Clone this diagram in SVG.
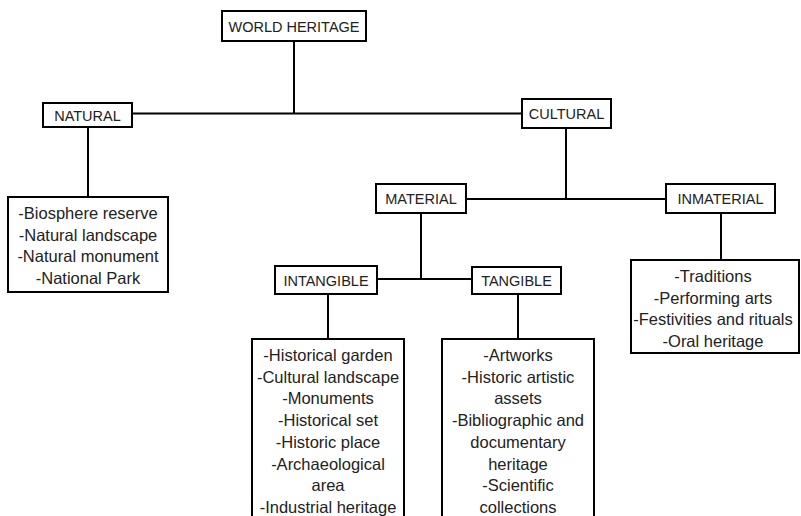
<svg xmlns="http://www.w3.org/2000/svg" width="801" height="516" viewBox="0 0 801 516">
<style>
rect{fill:#fff;stroke:#000;stroke-width:2}
.c line{stroke:#000;stroke-width:2}
.lbl{font-family:"Liberation Sans",Arial,sans-serif;font-size:14.5px;fill:#222;text-anchor:middle}
.lst{font-family:"Liberation Sans",Arial,sans-serif;font-size:16.5px;fill:#222;text-anchor:middle}
</style>
<rect x="0" y="0" width="801" height="516" style="stroke:none"/>
<g class="c" id="connectors">
<line x1="294" y1="41" x2="294" y2="113"/>
<line x1="132" y1="113.5" x2="522" y2="113.5"/>
<line x1="88" y1="127" x2="88" y2="197"/>
<line x1="566" y1="128" x2="566" y2="199"/>
<line x1="466" y1="199" x2="666" y2="199"/>
<line x1="721" y1="213" x2="721" y2="260"/>
<line x1="421" y1="213" x2="421" y2="279"/>
<line x1="377" y1="279" x2="472" y2="279"/>
<line x1="328" y1="294" x2="328" y2="339"/>
<line x1="518" y1="294" x2="518" y2="339"/>
</g>
<g id="world-heritage"><rect x="222" y="11" width="144" height="30"/><text class="lbl" x="294" y="31.5">WORLD HERITAGE</text></g>
<g id="natural"><rect x="43" y="103" width="89" height="24"/><text class="lbl" x="87.5" y="120.5">NATURAL</text></g>
<g id="cultural"><rect x="522" y="99" width="89" height="29"/><text class="lbl" x="566.5" y="119">CULTURAL</text></g>
<g id="natural-list"><rect x="8" y="197" width="160" height="95"/>
<text class="lst" x="88" y="219">-Biosphere reserve</text>
<text class="lst" x="88" y="240.7">-Natural landscape</text>
<text class="lst" x="88" y="262.4">-Natural monument</text>
<text class="lst" x="88" y="284">-National Park</text></g>
<g id="material"><rect x="376" y="184" width="90" height="29"/><text class="lbl" x="421" y="204">MATERIAL</text></g>
<g id="inmaterial"><rect x="666" y="184" width="109" height="29"/><text class="lbl" x="720.5" y="204">INMATERIAL</text></g>
<g id="inmaterial-list"><rect x="631" y="260" width="168" height="93"/>
<text class="lst" x="713" y="282">-Traditions</text>
<text class="lst" x="713" y="303.5">-Performing arts</text>
<text class="lst" x="713" y="325">-Festivities and rituals</text>
<text class="lst" x="713" y="346.5">-Oral heritage</text></g>
<g id="intangible"><rect x="275" y="266" width="102" height="28"/><text class="lbl" x="326" y="285.5">INTANGIBLE</text></g>
<g id="tangible"><rect x="472" y="267" width="89" height="27"/><text class="lbl" x="516.5" y="286">TANGIBLE</text></g>
<g id="intangible-list"><rect x="252" y="339" width="152" height="200"/>
<text class="lst" x="328" y="361">-Historical garden</text>
<text class="lst" x="328" y="382.7">-Cultural landscape</text>
<text class="lst" x="328" y="404.4">-Monuments</text>
<text class="lst" x="328" y="426.1">-Historical set</text>
<text class="lst" x="328" y="447.8">-Historic place</text>
<text class="lst" x="328" y="469.5">-Archaeological</text>
<text class="lst" x="328" y="491.2">area</text>
<text class="lst" x="328" y="512.9">-Industrial heritage</text></g>
<g id="tangible-list"><rect x="442" y="339" width="152" height="200"/>
<text class="lst" x="518" y="361">-Artworks</text>
<text class="lst" x="518" y="382.7">-Historic artistic</text>
<text class="lst" x="518" y="404.4">assets</text>
<text class="lst" x="518" y="426.1">-Bibliographic and</text>
<text class="lst" x="518" y="447.8">documentary</text>
<text class="lst" x="518" y="469.5">heritage</text>
<text class="lst" x="518" y="491.2">-Scientific</text>
<text class="lst" x="518" y="512.9">collections</text></g>
</svg>
